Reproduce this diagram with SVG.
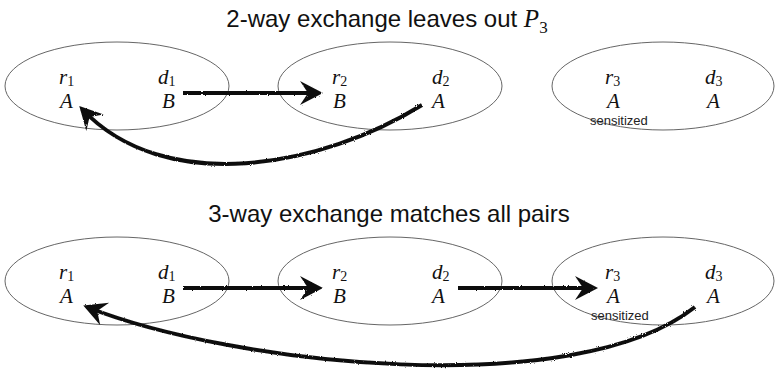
<svg xmlns="http://www.w3.org/2000/svg" width="775" height="374" viewBox="0 0 775 374">
  <style>
    .title { font-family: "Liberation Sans", Arial, sans-serif; font-size: 24px; fill: #111; }
    .math { font-family: "Liberation Serif", "Times New Roman", serif; font-style: italic; font-size: 21px; fill: #111; }
    .sub { font-style: normal; font-size: 14px; }
    .note { font-family: "Liberation Sans", Arial, sans-serif; font-style: normal; font-size: 13px; fill: #222; }
    .pair { fill: none; stroke: #666; stroke-width: 1; }
    .arrow { fill: none; stroke: #111; stroke-width: 4; marker-end: url(#head); filter: url(#rough); }
  </style>
  <defs>
    <filter id="rough" filterUnits="userSpaceOnUse" x="0" y="0" width="775" height="374">
      <feTurbulence type="fractalNoise" baseFrequency="0.9" numOctaves="2" seed="3" result="n"/>
      <feDisplacementMap in="SourceGraphic" in2="n" scale="2.2"/>
    </filter>
    <marker id="head" markerUnits="userSpaceOnUse" markerWidth="40" markerHeight="40" refX="0" refY="0" orient="auto" overflow="visible">
      <path d="M4,0 L-19,-12 L-11,0 L-19,12 Z" fill="#111"/>
    </marker>
  </defs>

  <text class="title" x="387" y="27" text-anchor="middle">2-way exchange leaves out <tspan style="font-family:'Liberation Serif','Times New Roman',serif;font-style:italic;font-size:25px">P</tspan><tspan style="font-family:'Liberation Serif','Times New Roman',serif;font-size:17px" dy="6">3</tspan></text>
  <text class="title" x="389" y="222" text-anchor="middle">3-way exchange matches all pairs</text>

  <!-- Top row -->
  <g id="t-p1">
    <ellipse class="pair" cx="117" cy="86" rx="112" ry="44"/>
    <text class="math"><tspan x="59" y="84">r</tspan><tspan class="sub" dy="2">1</tspan><tspan x="60" y="108">A</tspan></text>
    <text class="math"><tspan x="158" y="84">d</tspan><tspan class="sub" dy="2">1</tspan><tspan x="162" y="108">B</tspan></text>
  </g>
  <g id="t-p2">
    <ellipse class="pair" cx="390" cy="86" rx="112" ry="44"/>
    <text class="math"><tspan x="332" y="84">r</tspan><tspan class="sub" dy="2">2</tspan><tspan x="333" y="108">B</tspan></text>
    <text class="math"><tspan x="432" y="84">d</tspan><tspan class="sub" dy="2">2</tspan><tspan x="432" y="108">A</tspan></text>
  </g>
  <g id="t-p3">
    <ellipse class="pair" cx="663" cy="86" rx="111" ry="44"/>
    <text class="math"><tspan x="605" y="84">r</tspan><tspan class="sub" dy="2">3</tspan><tspan x="607" y="108">A</tspan><tspan class="note" x="590" y="124.5">sensitized</tspan></text>
    <text class="math"><tspan x="705" y="84">d</tspan><tspan class="sub" dy="2">3</tspan><tspan x="707" y="108">A</tspan></text>
  </g>

  <!-- Bottom row -->
  <g id="b-p1">
    <ellipse class="pair" cx="117" cy="281" rx="112" ry="44"/>
    <text class="math"><tspan x="59" y="279">r</tspan><tspan class="sub" dy="2">1</tspan><tspan x="60" y="303">A</tspan></text>
    <text class="math"><tspan x="158" y="279">d</tspan><tspan class="sub" dy="2">1</tspan><tspan x="162" y="303">B</tspan></text>
  </g>
  <g id="b-p2">
    <ellipse class="pair" cx="390" cy="281" rx="112" ry="44"/>
    <text class="math"><tspan x="332" y="279">r</tspan><tspan class="sub" dy="2">2</tspan><tspan x="333" y="303">B</tspan></text>
    <text class="math"><tspan x="432" y="279">d</tspan><tspan class="sub" dy="2">2</tspan><tspan x="432" y="303">A</tspan></text>
  </g>
  <g id="b-p3">
    <ellipse class="pair" cx="663" cy="281" rx="111" ry="44"/>
    <text class="math"><tspan x="605" y="279">r</tspan><tspan class="sub" dy="2">3</tspan><tspan x="607" y="303">A</tspan><tspan class="note" x="591" y="319.5">sensitized</tspan></text>
    <text class="math"><tspan x="705" y="279">d</tspan><tspan class="sub" dy="2">3</tspan><tspan x="707" y="303">A</tspan></text>
  </g>

  <g id="connectors">
    <path class="arrow" d="M183,93 L319,93"/>
    <path class="arrow" d="M422,105 C322,167 165,197 82,109"/>
    <path class="arrow" d="M183,288 L319,288"/>
    <path class="arrow" d="M458,288 L594,288"/>
    <path class="arrow" d="M695,307 C575,402 233,365 87,307"/>
  </g>
</svg>
